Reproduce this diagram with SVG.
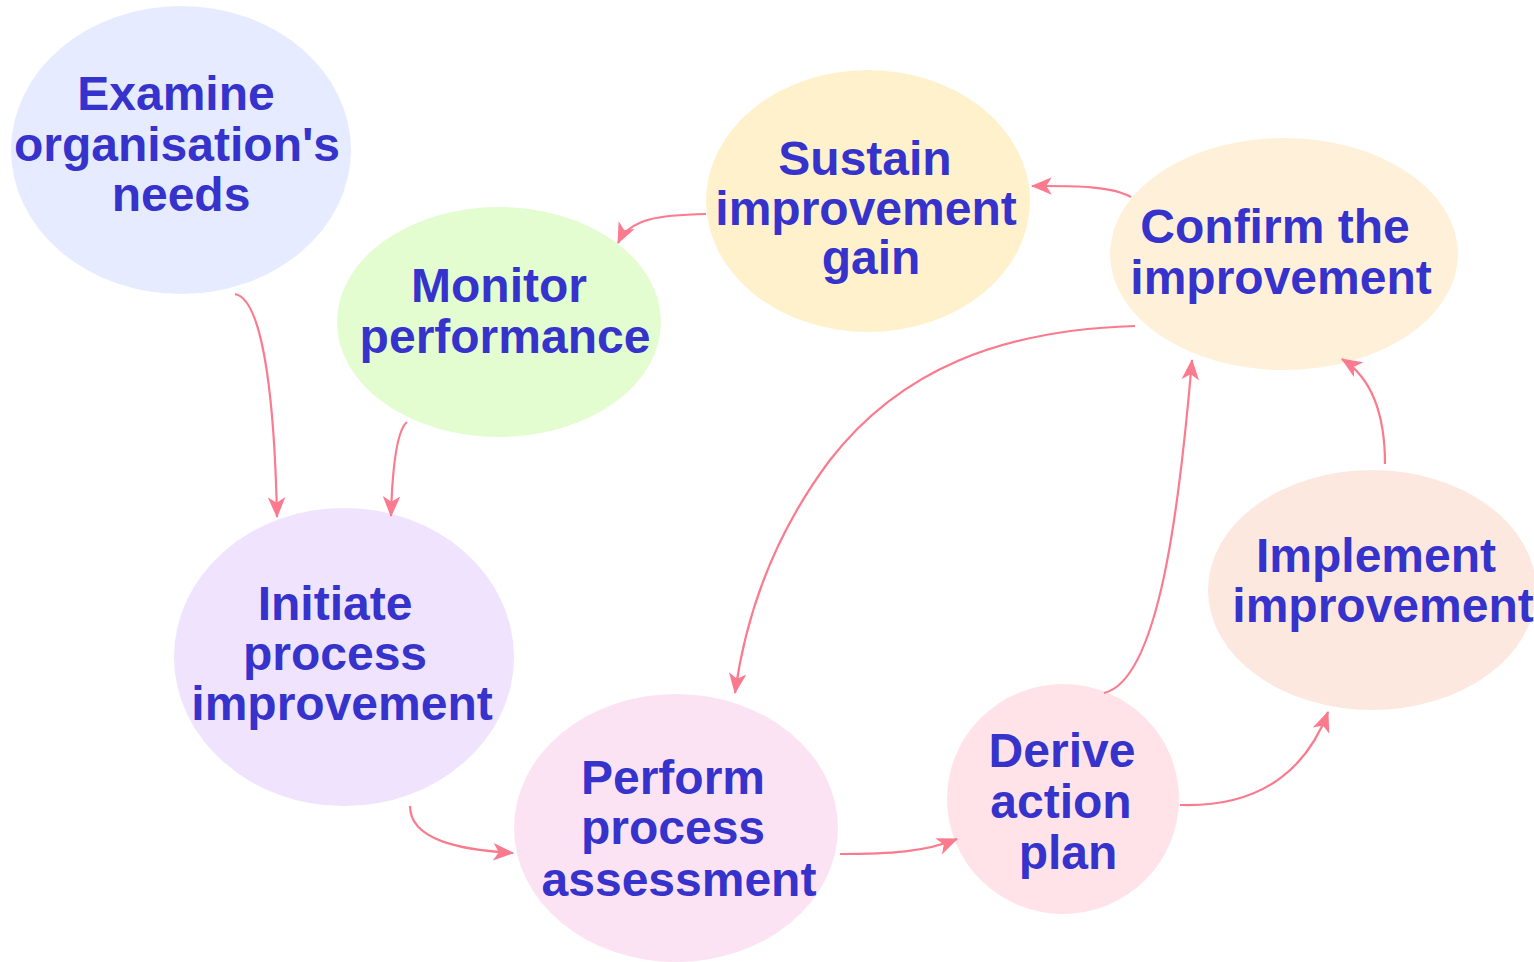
<svg xmlns="http://www.w3.org/2000/svg" width="1534" height="962" viewBox="0 0 1534 962">
<style>
.t{font-family:"Liberation Sans",Arial,sans-serif;font-weight:bold;font-size:48px;fill:#3633cc;text-anchor:middle}
.c{fill:none;stroke:#fb7a8e;stroke-width:2.2}
</style>
<defs>
<marker id="ah" markerUnits="userSpaceOnUse" markerWidth="22" markerHeight="18" refX="18" refY="8" orient="auto" viewBox="0 0 20 16">
<path d="M0,0 L19,8 L0,16 L5,8 Z" fill="#fb7a8e"/>
</marker>
</defs>
<rect width="1534" height="962" fill="#ffffff"/>
<g id="n-examine"><ellipse cx="181" cy="150" rx="170" ry="144" fill="#e6ebff"/>
<text class="t" x="176" y="110">Examine</text><text class="t" x="177" y="161">organisation's</text><text class="t" x="181" y="211">needs</text></g>
<g id="n-sustain"><ellipse cx="868" cy="201" rx="162" ry="131" fill="#fff1cc"/>
<text class="t" x="865" y="175">Sustain</text><text class="t" x="866" y="225">improvement</text><text class="t" x="871" y="274">gain</text></g>
<g id="n-confirm"><ellipse cx="1284" cy="254" rx="174" ry="116" fill="#fff1d9"/>
<text class="t" x="1275" y="243">Confirm the</text><text class="t" x="1281" y="294">improvement</text></g>
<g id="n-monitor"><ellipse cx="499" cy="322" rx="162" ry="115" fill="#e3fcd0"/>
<text class="t" x="499" y="302">Monitor</text><text class="t" x="505" y="353">performance</text></g>
<g id="n-initiate"><ellipse cx="344" cy="657" rx="170" ry="149" fill="#f0e3fd"/>
<text class="t" x="335" y="620">Initiate</text><text class="t" x="335" y="670">process</text><text class="t" x="342" y="720">improvement</text></g>
<g id="n-implement"><ellipse cx="1372" cy="590" rx="164" ry="120" fill="#fde8e0"/>
<text class="t" x="1376" y="572">Implement</text><text class="t" x="1383" y="622">improvement</text></g>
<g id="n-perform"><ellipse cx="676" cy="828" rx="162" ry="134" fill="#fce3f4"/>
<text class="t" x="673" y="794">Perform</text><text class="t" x="673" y="844">process</text><text class="t" x="679" y="896">assessment</text></g>
<g id="n-derive"><ellipse cx="1063" cy="799" rx="116" ry="115" fill="#ffe3e8"/>
<text class="t" x="1062" y="767">Derive</text><text class="t" x="1061" y="818">action</text><text class="t" x="1068" y="869">plan</text></g>
<g id="connectors">
<path class="c" marker-end="url(#ah)" d="M235,294 C266,300 275,420 277,517"/>
<path class="c" marker-end="url(#ah)" d="M407,422 C395,432 392,480 391,516"/>
<path class="c" marker-end="url(#ah)" d="M706,214 C660,215 630,218 618,243"/>
<path class="c" marker-end="url(#ah)" d="M1131,197 C1110,185 1070,186 1032,186"/>
<path class="c" marker-end="url(#ah)" d="M1135,326 C1000,330 900,370 830,460 C770,540 745,620 735,693"/>
<path class="c" marker-end="url(#ah)" d="M1104,693 C1160,680 1180,500 1192,360"/>
<path class="c" marker-end="url(#ah)" d="M1385,464 C1385,420 1375,380 1342,359"/>
<path class="c" marker-end="url(#ah)" d="M1180,805 C1270,808 1310,760 1328,712"/>
<path class="c" marker-end="url(#ah)" d="M410,806 C410,840 460,850 513,853"/>
<path class="c" marker-end="url(#ah)" d="M840,854 C890,854 925,852 957,839"/>
</g>
</svg>
